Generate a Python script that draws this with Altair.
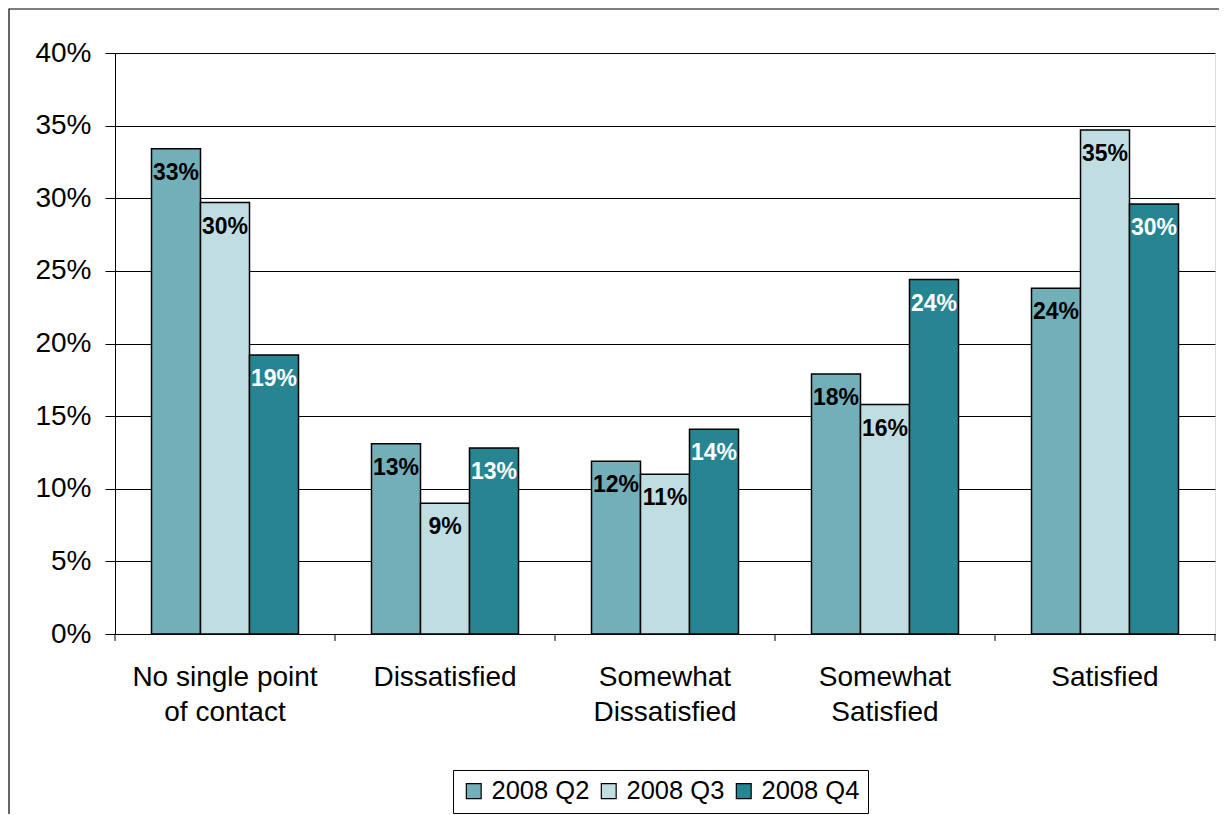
import altair as alt
import pandas as pd

categories = ["No single point of contact", "Dissatisfied", "Somewhat Dissatisfied",
              "Somewhat Satisfied", "Satisfied"]
label_lines = {
    "No single point of contact": ["No single point", "of contact"],
    "Dissatisfied": ["Dissatisfied"],
    "Somewhat Dissatisfied": ["Somewhat", "Dissatisfied"],
    "Somewhat Satisfied": ["Somewhat", "Satisfied"],
    "Satisfied": ["Satisfied"],
}
quarters = ["2008 Q2", "2008 Q3", "2008 Q4"]
q2 = [33.4, 13.1, 11.9, 17.9, 23.8]
q3 = [29.7, 9.0, 11.0, 15.8, 34.7]
q4 = [19.2, 12.8, 14.1, 24.4, 29.6]
colors = ["#72AFB9", "#C0DEE2", "#278591"]

rows = []
for q, vals in zip(quarters, [q2, q3, q4]):
    for c, v in zip(categories, vals):
        rows.append({"Category": c, "Quarter": q, "Value": v / 100})
df = pd.DataFrame(rows)
cat_df = pd.DataFrame({"Category": categories})

W, H = 1100, 581
FONT = "Liberation Sans"

expr_parts = []
for c in categories:
    arr = "[" + ", ".join("'" + s + "'" for s in label_lines[c]) + "]"
    expr_parts.append(f"datum.value == '{c}' ? {arr}")
label_expr = " : ".join(expr_parts) + " : datum.value"

x_enc = alt.X("Category:N", sort=categories,
              scale=alt.Scale(paddingInner=0, paddingOuter=0),
              axis=alt.Axis(title=None, labelAngle=0, ticks=False, labelExpr=label_expr,
                            labelFontSize=28, labelFont=FONT, labelColor="black",
                            labelPadding=29, labelLineHeight=35, labelBaseline="top",
                            labelLimit=400, domainColor="black", domainWidth=1))
xoff = alt.XOffset("Quarter:N", sort=quarters,
                   scale=alt.Scale(paddingInner=0, paddingOuter=0.745))
y_enc = alt.Y("Value:Q", scale=alt.Scale(domain=[0, 0.4]),
              axis=alt.Axis(title=None, format=".0%", values=[i * 0.05 for i in range(9)],
                            labelFontSize=28, labelFont=FONT, labelColor="black",
                            tickSize=10, tickColor="black", labelPadding=14,
                            domainColor="black", gridColor="black", gridWidth=1))

frame = alt.Chart(pd.DataFrame({"a": [0]})).mark_rect(
    fill=None, stroke="black", strokeWidth=1.2
).encode(x=alt.value(-106), x2=alt.value(W + 60), y=alt.value(-44), y2=alt.value(H + 260))

bars = alt.Chart(df).mark_bar(stroke="black", strokeWidth=1.5).encode(
    x=x_enc, xOffset=xoff, y=y_enc,
    color=alt.Color("Quarter:N", sort=quarters,
                    scale=alt.Scale(domain=quarters, range=colors),
                    legend=alt.Legend(title=None, orient="none", direction="horizontal",
                                      legendX=338, legendY=717, strokeColor="black",
                                      fillColor="white", padding=8, symbolType="square",
                                      symbolSize=220, symbolStrokeColor="black",
                                      symbolStrokeWidth=1.2, labelFontSize=25.5,
                                      labelFont=FONT, labelColor="black",
                                      columnPadding=6, labelOffset=5)),
)

texts = alt.Chart(df).mark_text(fontSize=23, fontWeight="bold", font=FONT,
                                baseline="middle", dy=24).encode(
    x=alt.X("Category:N", sort=categories), xOffset=xoff,
    y=alt.Y("Value:Q"),
    text=alt.Text("Value:Q", format=".0%"),
    color=alt.condition("datum.Quarter == '2008 Q4'", alt.value("white"), alt.value("black")),
)

ticks = alt.Chart(cat_df).mark_rule(color="black", strokeWidth=1).encode(
    x=alt.X("Category:N", sort=categories, bandPosition=0),
    y=alt.value(H), y2=alt.value(H + 7),
)
last_tick = alt.Chart(cat_df[cat_df["Category"] == categories[-1]]).mark_rule(
    color="black", strokeWidth=1).encode(
    x=alt.X("Category:N", sort=categories, bandPosition=1),
    y=alt.value(H), y2=alt.value(H + 7),
)

chart = alt.layer(frame, bars, texts, ticks, last_tick).properties(
    width=W, height=H,
    autosize=alt.AutoSizeParams(type="none"),
    padding={"left": 107, "top": 45, "right": 4, "bottom": 180},
).configure_view(fill="#C0C0C0", stroke="#808080", strokeWidth=1.5
).configure(background="white")

chart.save("out.html", embed_options={"renderer": "svg", "actions": False})
